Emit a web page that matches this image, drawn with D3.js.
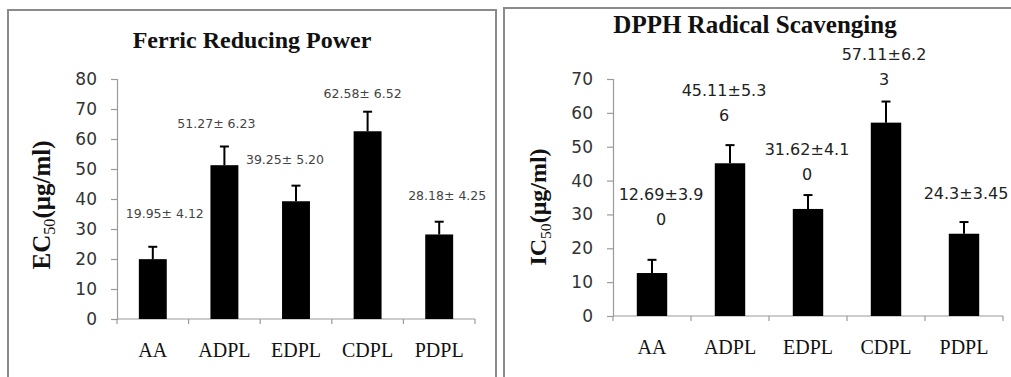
<!DOCTYPE html>
<html>
<head>
<meta charset="utf-8">
<script src="https://cdn.jsdelivr.net/npm/d3@7"></script>
<style>
  body { margin: 0; background: #fff; }
  svg { display: block; }
</style>
</head>
<body>
<svg id="chart" width="1011" height="377"></svg>
<script>
const categories = ['AA', 'ADPL', 'EDPL', 'CDPL', 'PDPL']

// Ferric reducing power, EC50 (µg/ml)
const frpMean = [19.95, 51.27, 39.25, 62.58, 28.18]
const frpErr = [4.12, 6.23, 5.20, 6.52, 4.25]
const frpTicks = [0, 10, 20, 30, 40, 50, 60, 70, 80]

// DPPH radical scavenging, IC50 (µg/ml)
const dpphMean = [12.69, 45.11, 31.62, 57.11, 24.3]
const dpphErr = [3.90, 5.36, 4.10, 6.23, 3.45]
const dpphTicks = [0, 10, 20, 30, 40, 50, 60, 70]

// hand-placed label nudges (px), like the dragged Excel labels
const frpNudge = [[12, -29], [-8, -19], [-11, -22], [-5, -14], [8, -22]]
const dpphNudge = [[9, -35], [-6, -24], [-1, -15], [-2, -17], [2, -23]]

const svg = d3.select('#chart')

// panel frames
svg.append('rect')
  .attr('x', 8).attr('y', 10).attr('width', 488).attr('height', 400)
  .style('fill', 'none').style('stroke', '#8a8a8a').style('stroke-width', 2)
svg.append('rect')
  .attr('x', 504).attr('y', 8).attr('width', 520).attr('height', 400)
  .style('fill', 'none').style('stroke', '#8a8a8a').style('stroke-width', 2)

function drawPanel (o) {
  const x = d3.scaleBand().domain(categories).range([o.x0, o.x1])
  const y = d3.scaleLinear().domain([0, d3.max(o.ticks)]).range([o.y0, o.y1])
  const rows = categories.map((c, i) => ({ c, m: o.mean[i], e: o.err[i], n: o.nudge[i] }))
  const g = svg.append('g')

  // y axis
  const yAxis = g.append('g')
    .attr('transform', `translate(${o.x0},0)`)
    .call(d3.axisLeft(y).tickValues(o.ticks).tickSize(6).tickPadding(14).tickFormat(d3.format('d')))
  yAxis.select('.domain').style('stroke', '#9a9a9a').style('stroke-width', 1.2)
  yAxis.selectAll('.tick line').style('stroke', '#9a9a9a').style('stroke-width', 1.2)
  yAxis.selectAll('.tick text')
    .style('font-family', 'DejaVu Sans, Verdana, sans-serif')
    .style('font-size', '17px')
    .style('fill', '#333')

  // x axis, ticks between categories
  const xAxis = g.append('g').attr('transform', `translate(0,${o.y0})`)
  xAxis.append('line')
    .attr('x1', o.x0).attr('x2', o.x1)
    .style('stroke', '#9a9a9a').style('stroke-width', 1.2)
  xAxis.selectAll('.xt')
    .data(categories.map(c => x(c)).concat([x(categories[4]) + x.bandwidth()]))
    .enter().append('line')
    .attr('x1', d => d).attr('x2', d => d)
    .attr('y1', 0).attr('y2', 5)
    .style('stroke', '#9a9a9a').style('stroke-width', 1.2)
  xAxis.selectAll('.xl')
    .data(categories)
    .enter().append('text')
    .attr('x', d => x(d) + x.bandwidth() / 2)
    .attr('y', o.catY - o.y0)
    .attr('text-anchor', 'middle')
    .style('font-family', 'Liberation Serif, Times New Roman, serif')
    .style('font-size', '20px')
    .style('fill', '#111')
    .text(d => d)

  // bars
  const bw = x.bandwidth() * 0.39
  g.selectAll('.bar')
    .data(rows)
    .enter().append('rect')
    .attr('x', d => x(d.c) + (x.bandwidth() - bw) / 2)
    .attr('y', d => y(d.m))
    .attr('width', bw)
    .attr('height', d => y(0) - y(d.m))
    .style('fill', '#000')

  // upper error bars
  const err = g.selectAll('.err').data(rows).enter().append('g')
  err.append('line')
    .attr('x1', d => x(d.c) + x.bandwidth() / 2)
    .attr('x2', d => x(d.c) + x.bandwidth() / 2)
    .attr('y1', d => y(d.m))
    .attr('y2', d => y(d.m + d.e))
    .style('stroke', '#000').style('stroke-width', 2)
  err.append('line')
    .attr('x1', d => x(d.c) + x.bandwidth() / 2 - 4.5)
    .attr('x2', d => x(d.c) + x.bandwidth() / 2 + 4.5)
    .attr('y1', d => y(d.m + d.e))
    .attr('y2', d => y(d.m + d.e))
    .style('stroke', '#000').style('stroke-width', 2)

  // value labels
  const lab = g.selectAll('.lab')
    .data(rows)
    .enter().append('text')
    .attr('text-anchor', 'middle')
    .style('font-family', 'DejaVu Sans, Verdana, sans-serif')
    .style('font-size', o.labSize + 'px')
    .style('fill', o.labColor)
  lab.each(function (d) {
    const lines = o.labText(d)
    const cx = x(d.c) + x.bandwidth() / 2 + d.n[0]
    const base = y(d.m + d.e) + d.n[1] - (lines.length - 1) * o.lineGap
    d3.select(this).selectAll('tspan')
      .data(lines)
      .enter().append('tspan')
      .attr('x', cx)
      .attr('y', (t, i) => base + i * o.lineGap)
      .text(t => t)
  })

  // title
  g.append('text')
    .attr('x', o.titleX).attr('y', o.titleY)
    .attr('text-anchor', 'middle')
    .style('font-family', 'Liberation Serif, Times New Roman, serif')
    .style('font-weight', 'bold')
    .style('font-size', o.titleSize + 'px')
    .style('fill', '#111')
    .text(o.title)

  // y label with subscript
  const yl = g.append('text')
    .attr('transform', `translate(${o.ylX},${o.ylY}) rotate(-90)`)
    .attr('text-anchor', 'middle')
    .style('font-family', 'Liberation Serif, Times New Roman, serif')
    .style('font-weight', 'bold')
    .style('font-size', o.ylSize + 'px')
    .style('fill', '#111')
  yl.append('tspan').text(o.ylPre)
  yl.append('tspan').attr('dy', 5).style('font-size', (o.ylSize * 0.65) + 'px').style('font-weight', 'normal').text('50')
  yl.append('tspan').attr('dy', -5).text('(μg/ml)')
}

drawPanel({
  mean: frpMean, err: frpErr, ticks: frpTicks, nudge: frpNudge,
  x0: 117, x1: 475, y0: 319, y1: 79, catY: 357,
  labSize: 12.5, labColor: '#444', lineGap: 0,
  labText: d => [d.m + '± ' + d.e.toFixed(2)],
  title: 'Ferric Reducing Power', titleX: 252, titleY: 48, titleSize: 24,
  ylPre: 'EC', ylX: 50, ylY: 205, ylSize: 25
})

drawPanel({
  mean: dpphMean, err: dpphErr, ticks: dpphTicks, nudge: dpphNudge,
  x0: 613, x1: 1003, y0: 316, y1: 79, catY: 354,
  labSize: 16, labColor: '#222', lineGap: 25,
  labText: d => {
    const s = d.m + '±' + d.e.toFixed(2)
    return s.length > 9 ? [s.slice(0, 9), s.slice(9)] : [s]
  },
  title: 'DPPH Radical Scavenging', titleX: 755, titleY: 33, titleSize: 25,
  ylPre: 'IC', ylX: 546, ylY: 207, ylSize: 24
})
</script>
</body>
</html>
